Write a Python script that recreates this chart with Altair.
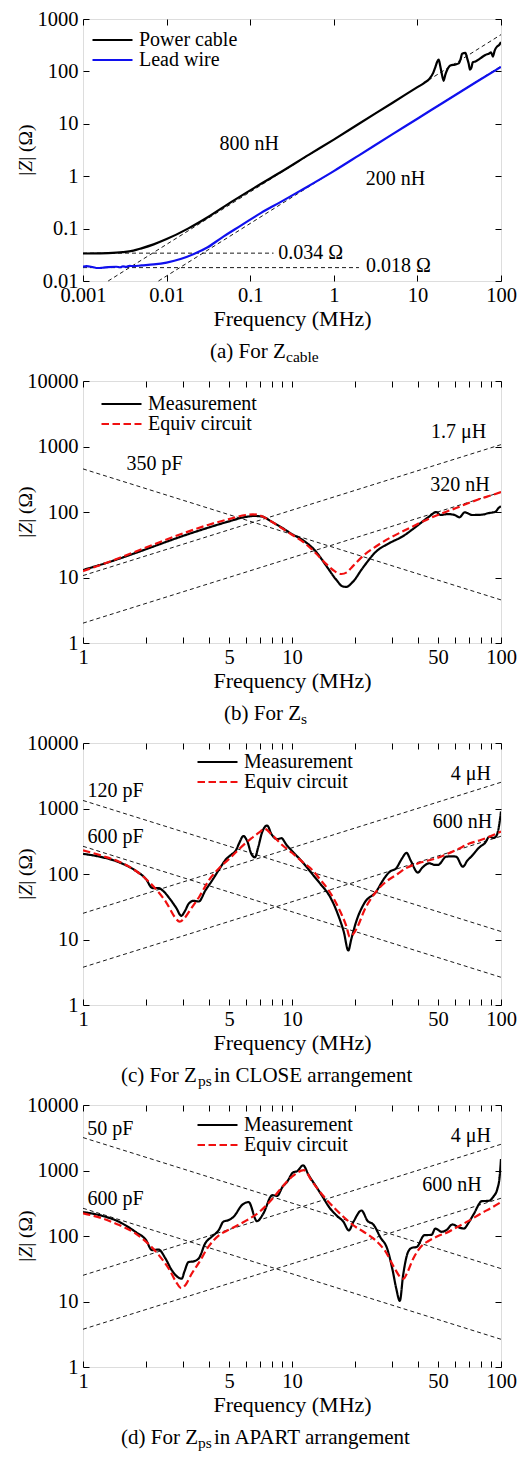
import altair as alt
import pandas as pd

FONT = "Liberation Serif"
W, H = 418, 262

# ---------------- (a) For Z_cable ----------------
a_cable = [(0.001, 0.0335), (0.0015, 0.0337), (0.002, 0.034), (0.003, 0.0355), (0.004, 0.038),
           (0.005, 0.042), (0.007, 0.05), (0.01, 0.063), (0.018, 0.1), (0.031, 0.165), (0.059, 0.32),
           (0.112, 0.6), (0.233, 1.2), (0.5, 2.55), (1, 5.0), (2, 10), (5, 25), (10, 50), (12, 60),
           (14, 73), (15.5, 95), (16.4, 121), (17.3, 155), (18, 168), (18.7, 130), (19.4, 97),
           (20.6, 66), (21.5, 85), (22.6, 105), (24.8, 130), (28, 135), (31.2, 142), (33, 175),
           (34.2, 218), (37.5, 225), (39.5, 175), (41.1, 140), (42.5, 108), (44.3, 118), (46, 150),
           (49.5, 155), (55, 172), (59.5, 188), (65, 205), (71.5, 218), (76, 230), (80, 192),
           (84, 250), (90, 300), (95, 320), (100, 365)]
a_lead = [(0.001, 0.0187), (0.0011, 0.0192), (0.0013, 0.0185), (0.0015, 0.0177), (0.0017, 0.0179),
          (0.002, 0.0184), (0.0025, 0.0187), (0.0028, 0.0183), (0.003, 0.019), (0.0033, 0.0186),
          (0.0036, 0.0195), (0.004, 0.0192), (0.005, 0.0198), (0.007, 0.0207), (0.01, 0.0225),
          (0.015, 0.0265), (0.0215, 0.033), (0.031, 0.044), (0.045, 0.066), (0.078, 0.115),
          (0.135, 0.2), (0.23, 0.32), (0.4, 0.53), (1, 1.25), (2, 2.5), (5, 6.3), (10, 12.5),
          (20, 25), (50, 62), (100, 122)]
a_asym = [("800 nH", 0.002, 0.01), ("800 nH", 100, 503), ("200 nH", 0.008, 0.01), ("200 nH", 100, 126),
          ("0.034", 0.001, 0.034), ("0.034", 0.19, 0.034), ("0.018", 0.001, 0.018), ("0.018", 2.0, 0.018)]
a_text = [("800 nH", 0.097, 4.1), ("200 nH", 5.47, 0.885), ("0.034 Ω", 0.53, 0.034), ("0.018 Ω", 5.94, 0.019)]
a_series = ["Power cable", "Lead wire"]

# ---------------- (b) For Z_s ----------------
b_meas = [(1, 13), (1.5, 19.5), (2, 27), (3, 43), (4, 58), (5, 72), (6, 84), (6.6, 87), (7.2, 85),
          (8, 71), (9, 57), (10, 46), (11.3, 37), (13, 25), (14.6, 15), (16.3, 9.2), (17.5, 7.3),
          (18.2, 7.2), (19.5, 8.5), (21.8, 14), (25.3, 25), (29.3, 33.6), (33.9, 42.6), (39.3, 60),
          (45.5, 86), (49, 100), (51.3, 90), (55.7, 93), (60, 90), (63.3, 83), (67, 99), (72.8, 90),
          (81, 91), (87, 96), (94, 101), (97.6, 116), (100, 122)]
b_equiv = [(1, 12.5), (1.5, 20), (2, 28.7), (3, 47), (4, 64), (5, 78), (6, 90), (6.5, 92), (7, 89),
           (8, 71), (9, 56), (10, 45), (11.3, 35), (13, 23.5), (14.6, 16), (16, 12.5), (17.2, 11.3),
           (18.3, 12), (19.2, 14), (22.2, 22.3), (25.3, 30), (29.3, 40), (33.9, 50.7), (39.3, 64),
           (45.5, 80), (52.7, 96.6), (61, 115), (70, 137), (80, 160), (90, 180), (100, 202)]
b_asym = [("350 pF", 1, 455), ("350 pF", 100, 4.55), ("1.7 uH", 1, 10.7), ("1.7 uH", 100, 1068),
          ("320 nH", 1, 2.01), ("320 nH", 100, 201)]
b_text = [("350 pF", 2.2, 546), ("1.7 μH", 62.6, 1664), ("320 nH", 63.7, 258)]

# ---------------- (c) For Z_ps CLOSE ----------------
c_meas = [(1, 203), (1.23, 181), (1.48, 152), (1.78, 113), (2.0, 84), (2.15, 61), (2.3, 61), (2.42, 55),
          (2.6, 42), (2.8, 30), (2.95, 23), (3.08, 27.5), (3.2, 35), (3.38, 39), (3.58, 38), (3.85, 56),
          (4.15, 80), (4.5, 120), (4.85, 170), (5.1, 195), (5.4, 232), (5.6, 300), (5.85, 380),
          (6.1, 320), (6.4, 200), (6.65, 180), (6.9, 260), (7.2, 436), (7.6, 550), (8.0, 400),
          (8.5, 340), (8.9, 352), (9.4, 280), (10, 225), (11.2, 153), (12.5, 100), (13.7, 70),
          (15.2, 45), (16.6, 24), (17.7, 13), (18.6, 6.8), (19.2, 10), (20.2, 18), (22.2, 36),
          (25.3, 54), (27.5, 84), (29.3, 108), (31.5, 122), (33.5, 170), (35.3, 210), (37, 160),
          (40, 105), (42, 125), (45.5, 146), (48, 138), (50, 138), (54.7, 184), (58, 186), (61, 184),
          (65.7, 129), (69, 160), (72, 184), (78.9, 256), (84, 300), (88, 371), (92, 355), (95, 380),
          (98, 560), (100, 900)]
c_equiv = [(1, 230), (1.23, 190), (1.48, 155), (1.78, 113), (2.0, 84), (2.26, 56), (2.5, 37), (2.75, 22),
           (2.9, 18.7), (3.05, 21), (3.3, 30), (3.6, 45), (4.0, 80), (4.5, 125), (5.0, 170), (5.5, 229),
           (6.0, 297), (6.5, 364), (7.0, 436), (7.4, 490), (8.0, 400), (9.0, 275), (10, 211),
           (11.3, 150), (12.5, 115), (13.5, 86), (15.1, 54), (16.9, 28), (18.2, 16), (18.9, 11),
           (19.6, 12), (20.6, 15.7), (22.2, 28), (25.3, 54), (28, 75), (32, 100), (35, 122), (40, 145),
           (49, 174), (61, 232), (71, 294), (80, 330), (88, 370), (100, 445)]
c_asym = [("120 pF", 1, 1326), ("120 pF", 100, 13.26), ("600 pF", 1, 265), ("600 pF", 100, 2.65),
          ("4 uH", 1, 25.1), ("4 uH", 100, 2513), ("600 nH", 1, 3.77), ("600 nH", 100, 377)]
c_text = [("120 pF", 1.43, 1870), ("600 pF", 1.43, 363), ("4 μH", 71.8, 3363), ("600 nH", 65.4, 630)]

# ---------------- (d) For Z_ps APART ----------------
d_meas = [(1, 232), (1.23, 204), (1.48, 166), (1.78, 116), (2.0, 87), (2.14, 61), (2.3, 62), (2.48, 45.5),
          (2.66, 30), (2.97, 22.3), (3.05, 28), (3.2, 40), (3.38, 41), (3.58, 45.5), (3.85, 78),
          (4.14, 98), (4.46, 123), (4.7, 166), (4.98, 175), (5.26, 197), (5.76, 296), (6.2, 330),
          (6.8, 168), (7.3, 222), (8.05, 420), (8.5, 410), (9.0, 560), (9.5, 680), (10.1, 930),
          (10.6, 980), (11.3, 1200), (12, 856), (12.9, 600), (14, 400), (15, 280), (16.5, 200),
          (17.6, 166), (18.7, 122), (19.7, 166), (21.5, 245), (23, 170), (24.5, 150), (26.5, 95),
          (28.5, 65), (30.3, 30), (31.5, 16), (32.8, 10.2), (34, 25), (36, 58), (37.5, 66), (39.5, 68),
          (43, 103), (46.5, 104), (48.5, 130), (52, 116), (55, 124), (58.5, 150), (63, 135),
          (66.5, 130), (70, 160), (74, 215), (81, 340), (87.5, 345), (92, 400), (96, 520), (98.5, 800),
          (100, 1500)]
d_equiv = [(1, 222), (1.23, 187), (1.48, 148), (1.78, 110), (2.0, 82), (2.3, 51.5), (2.6, 30), (2.8, 19.5),
           (2.95, 16), (3.1, 18), (3.3, 26), (3.6, 40), (4.0, 70), (4.5, 104), (5.0, 125), (6.0, 170),
           (7.0, 235), (8.0, 360), (9.0, 567), (10, 805), (11.4, 1010), (12.5, 675), (14, 422),
           (16, 265), (18, 185), (20, 140), (22, 116), (25, 87), (28, 58), (31, 32), (33, 23.5),
           (34.2, 22.3), (35.5, 27), (38, 45), (42, 72), (45, 84), (50, 100), (55, 112), (60, 130),
           (70, 170), (80, 220), (90, 270), (100, 330)]
d_asym = [("50 pF", 1, 3183), ("50 pF", 100, 31.8), ("600 pF", 1, 265), ("600 pF", 100, 2.65),
          ("4 uH", 1, 25.1), ("4 uH", 100, 2513), ("600 nH", 1, 3.77), ("600 nH", 100, 377)]
d_text = [("50 pF", 1.35, 4345), ("600 pF", 1.43, 371), ("4 μH", 71.8, 3363), ("600 nH", 58.3, 594)]

meq_series = ["Measurement", "Equiv circuit"]

# axis tick positions / labels
a_xlabels = [0.001, 0.01, 0.1, 1, 10, 100]
a_ydec = [0.01, 0.1, 1, 10, 100, 1000]
f_labels = [1, 5, 10, 50, 100]
f_ticks = [1, 2, 3, 4, 5, 6, 7, 8, 9, 10, 20, 30, 40, 50, 60, 70, 80, 90, 100]
z_dec = [1, 10, 100, 1000, 10000]


def text_piece(txt, x, y, size=20, italic=False, angle=None, align="left", baseline="alphabetic"):
    kw = dict(font=FONT, fontSize=size, align=align, baseline=baseline, color="black")
    if italic:
        kw["fontStyle"] = "italic"
    if angle is not None:
        kw["angle"] = angle
    return alt.Chart(pd.DataFrame({"t": [txt]})).mark_text(**kw).encode(
        x=alt.value(x), y=alt.value(y), text="t:N")


def tick_axis(orient, offset, values):
    return alt.Axis(orient=orient, offset=offset, values=values, labels=False, ticks=True,
                    tickSize=6, tickWidth=1, tickColor="black", domain=False, grid=False, title=None)


def panel(curves, series, colors, dashes, asym, texts, xdom, ydom, xlab, xticks, ydec,
          leg_x, leg_y, caption):
    rows = []
    for name, pts in zip(series, curves):
        for f, z in pts:
            rows.append({"f": f, "z": z, "series": name})
    cdf = pd.DataFrame(rows)
    adf = pd.DataFrame(asym, columns=["name", "f", "z"])
    tdf = pd.DataFrame(texts, columns=["label", "f", "z"])

    xs = alt.Scale(type="log", domain=xdom, nice=False)
    ys = alt.Scale(type="log", domain=ydom, nice=False)

    main_x = alt.Axis(orient="bottom", values=xlab, format="~g", ticks=False, tickSize=0, domain=False,
                      grid=False, labelFont=FONT, labelFontSize=20.5, labelColor="black", labelPadding=4,
                      labelFlush=False, labelOverlap=False, labelBound=False,
                      title="Frequency (MHz)", titleFont=FONT, titleFontSize=22,
                      titleFontWeight="normal", titleColor="black", titlePadding=3)
    main_y = alt.Axis(orient="left", values=ydec, format="~g", ticks=False, tickSize=0, domain=False,
                      grid=False, labelFont=FONT, labelFontSize=20.5, labelColor="black", labelPadding=5,
                      labelFlush=False, labelOverlap=False, labelBound=False, title=None)

    legend = alt.Legend(orient="none", legendX=leg_x, legendY=leg_y, title=None, symbolType="stroke",
                        symbolSize=1600, symbolStrokeWidth=2.2, labelFont=FONT, labelFontSize=20,
                        labelColor="black", clipHeight=20, rowPadding=0, padding=0, labelOffset=5,
                        direction="vertical")

    asym_layer = alt.Chart(adf).mark_line(color="black", strokeWidth=0.9, strokeDash=[4, 3]).encode(
        x=alt.X("f:Q", scale=xs, axis=tick_axis("top", -H, xticks)),
        y=alt.Y("z:Q", scale=ys, axis=tick_axis("right", -W, ydec)),
        detail="name:N")

    enc = dict(
        x=alt.X("f:Q", scale=xs, axis=main_x),
        y=alt.Y("z:Q", scale=ys, axis=main_y),
        color=alt.Color("series:N", scale=alt.Scale(domain=series, range=colors), legend=legend),
    )
    if dashes is not None:
        enc["strokeDash"] = alt.StrokeDash("series:N", scale=alt.Scale(domain=series, range=dashes),
                                           legend=legend)
    curve_layer = alt.Chart(cdf).mark_line(strokeWidth=2.2, clip=True,
                                           interpolate="monotone").encode(**enc)

    text_layer = alt.Chart(tdf).mark_text(font=FONT, fontSize=20, align="center", baseline="middle",
                                          color="black").encode(
        x=alt.X("f:Q", scale=xs, axis=tick_axis("bottom", -H, xticks)),
        y=alt.Y("z:Q", scale=ys, axis=tick_axis("left", -W, ydec)),
        text="label:N")

    # y-axis title |Z| (Ω) with italic Z
    ytitle = [
        text_piece("|", -57, 154.8, size=19.5, angle=270, align="center", baseline="middle"),
        text_piece("Z", -57, 147.4, size=19.5, italic=True, angle=270, align="center", baseline="middle"),
        text_piece("| (Ω)", -57, 123.6, size=19.5, angle=270, align="center", baseline="middle"),
    ]
    cap = [text_piece(t, x, y, size=s) for (t, x, y, s) in caption]

    return alt.layer(asym_layer, curve_layer, text_layer, *ytitle, *cap).resolve_axis(
        x="independent", y="independent").properties(width=W, height=H)


pa = panel([a_cable, a_lead], a_series, ["black", "#1010ee"], None, a_asym, a_text,
           [0.001, 100], [0.01, 1000], a_xlabels, a_xlabels, a_ydec, 8, 11,
           [("(a) For Z", 127, 339, 21), ("cable", 203, 343, 15.5)])
pb = panel([b_meas, b_equiv], meq_series, ["black", "#f01010"], [[1, 0], [7.5, 3.5]], b_asym, b_text,
           [1, 100], [1, 10000], f_labels, f_ticks, z_dec, 17, 13,
           [("(b) For Z", 141, 339, 21), ("s", 218, 343, 15.5)])
pc = panel([c_meas, c_equiv], meq_series, ["black", "#f01010"], [[1, 0], [7.5, 3.5]], c_asym, c_text,
           [1, 100], [1, 10000], f_labels, f_ticks, z_dec, 113, 9,
           [("(c) For Z", 38, 339, 21), ("ps", 115, 343, 15.5), ("in CLOSE arrangement", 131, 339, 21)])
pd_ = panel([d_meas, d_equiv], meq_series, ["black", "#f01010"], [[1, 0], [7.5, 3.5]], d_asym, d_text,
            [1, 100], [1, 10000], f_labels, f_ticks, z_dec, 113, 10,
            [("(d) For Z", 38, 339, 21), ("ps", 115, 343, 15.5), ("in APART arrangement", 131, 339, 21)])

chart = alt.vconcat(pa, pb, pc, pd_, spacing=4).resolve_scale(
    color="independent", strokeDash="independent").resolve_legend(
    color="independent", strokeDash="independent").properties(
    padding={"left": 7, "top": 0, "right": 0, "bottom": 0}).configure_view(
    stroke="black", strokeWidth=2).configure(background="white")

chart.save("out.html", embed_options={"renderer": "svg", "actions": False})
